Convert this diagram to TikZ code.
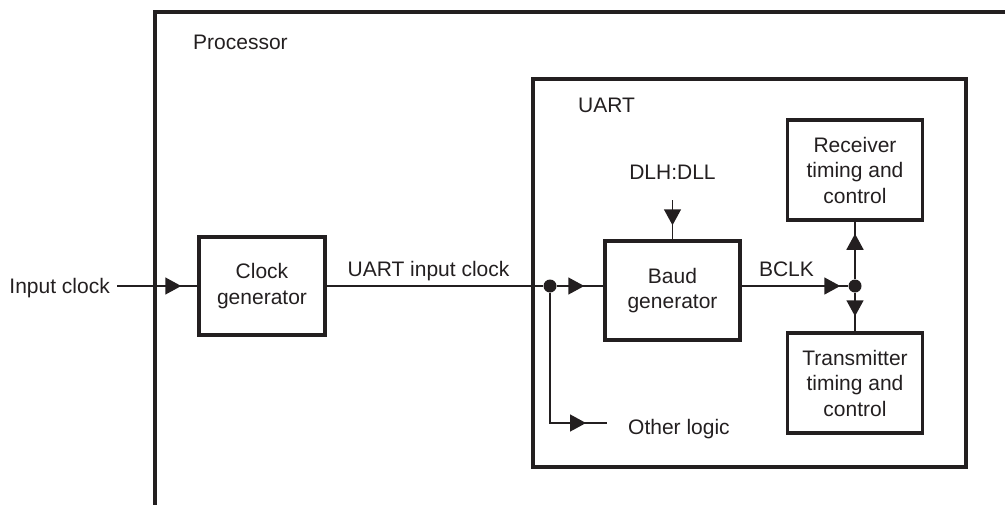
\documentclass[tikz,border=0pt]{standalone}
\usepackage{fontspec}
\setmainfont{Liberation Sans}
\usetikzlibrary{arrows.meta,positioning,decorations.markings}
\definecolor{inkcolor}{RGB}{35,31,32}

\begin{document}
\begin{tikzpicture}[
    x=1pt, y=-1pt,
    every node/.style={text=inkcolor, font=\fontsize{21}{25.5}\selectfont},
    block/.style={rectangle, draw=inkcolor, line width=3.5pt, align=center, inner sep=0pt},
    frame/.style={draw=inkcolor, line width=3.5pt},
    wire/.style={draw=inkcolor, line width=1.5pt},
    midarrow/.style={postaction={decorate}, decoration={markings, mark=at position #1 with {\arrow{Triangle[length=16pt, width=17pt, color=inkcolor]}}}},
    junction/.style={circle, fill=inkcolor, inner sep=0pt, minimum size=13pt},
    tag/.style={inner sep=0pt}
]

\useasboundingbox (0,0) rectangle (1005,504);
\clip (0,0) rectangle (1005,504);

% Processor outline (runs off the page)
\draw[frame] (155,12) rectangle (1030,530);
\node[tag, anchor=base west] (proclabel) at (193,49) {Processor};

% UART outline
\draw[frame] (533,79) rectangle (966,467);
\node[tag, anchor=base west] (uartlabel) at (578,112) {UART};

% Blocks
\node[block, minimum width=126pt, minimum height=98pt] (clkgen) at (262,286) {Clock\\generator};
\node[block, minimum width=135pt, minimum height=99pt] (baud) at (672.5,290.5) {Baud\\generator};
\node[block, minimum width=135pt, minimum height=100pt] (rx) at (855,170) {Receiver\\timing and\\control};
\node[block, minimum width=135pt, minimum height=100pt] (tx) at (855,383) {Transmitter\\timing and\\control};

% Junctions
\node[junction] (jin) at (550,286) {};
\node[junction] (jbclk) at (855,286) {};

% Free ends
\node[tag, anchor=base east] (inlabel) at (110,293) {Input clock};
\coordinate (inclk) at (117,286);
\node[tag, anchor=base] (dlh) at (672.5,179) {DLH:DLL};
\coordinate (dlhend) at (672.5,200);
\node[tag, anchor=base west] (other) at (628,434) {Other logic};
\coordinate (otherend) at (607,423);

% Connectors
\draw[wire, midarrow=-16pt] (inclk) -- (clkgen.west);
\draw[wire] (clkgen.east) -- node[tag, pos=0.47, above=4.5pt] {UART input clock} (jin);
\draw[wire, midarrow=-19pt] (jin) -- (jin -| baud.west);
\draw[wire, midarrow=-14pt] (dlhend) -- (baud.north);
\draw[wire, midarrow=-8pt] (jin -| baud.east) -- node[tag, pos=0.42, above=9pt] {BCLK} (jbclk);
\draw[wire, midarrow=-12pt] (jbclk) -- (rx.south);
\draw[wire, midarrow=-15pt] (jbclk) -- (tx.north);
\draw[wire, midarrow=-21pt] (jin) |- (otherend);

\end{tikzpicture}
\end{document}
